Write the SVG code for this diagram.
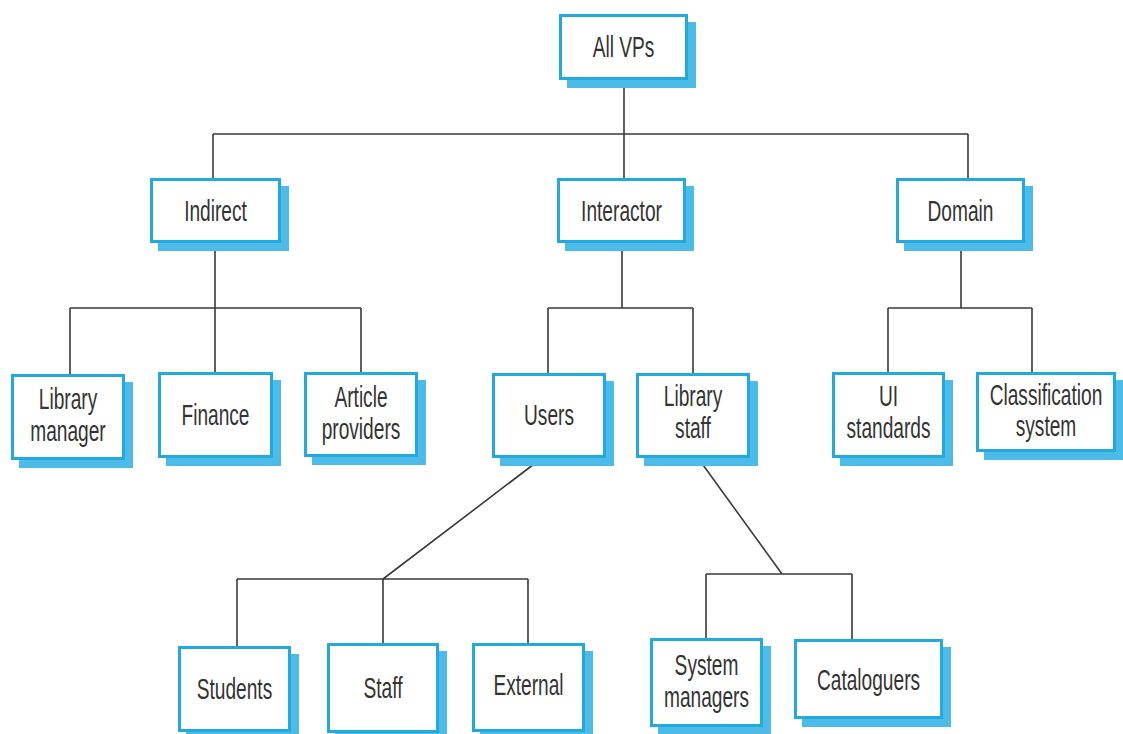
<svg xmlns="http://www.w3.org/2000/svg" width="1123" height="734" viewBox="0 0 1123 734">
<style>
.sh{fill:#4dbbe8}
.bx{fill:#ffffff;stroke:#22aadf;stroke-width:3}
.t{font-family:"Liberation Sans",Arial,sans-serif;font-size:29px;fill:#333333;text-anchor:middle}
.c{stroke:#3a3a3a;stroke-width:1.6;fill:none}
</style>
<rect width="1123" height="734" fill="#ffffff"/>
<g id="connectors" class="c">
<path d="M624,80 V134 M213,134 H968 M213,134 V178 M624,134 V178 M968,134 V178"/>
<path d="M215,243 V308 M70,308 H361 M70,308 V374 M215,308 V372 M361,308 V372"/>
<path d="M622,243 V308 M548,308 H693 M548,308 V373 M693,308 V373"/>
<path d="M961,243 V308 M888,308 H1032 M888,308 V372 M1032,308 V372"/>
<path d="M542,458 L383,579 M237,579 H528 M237,579 V646 M383,579 V643 M528,579 V643"/>
<path d="M698,458 L782,574 M706,574 H852 M706,574 V638 M852,574 V639"/>
</g>
<g id="n-allvps"><rect class="sh" x="567" y="22" width="129" height="66"/><rect class="bx" x="560.5" y="15.5" width="126" height="63"/><text class="t" transform="translate(623.5,57) scale(0.66,1)">All VPs</text></g>
<g id="n-indirect"><rect class="sh" x="158" y="186" width="131" height="65"/><rect class="bx" x="151.5" y="179.5" width="128" height="62"/><text class="t" transform="translate(215.5,221) scale(0.66,1)">Indirect</text></g>
<g id="n-interactor"><rect class="sh" x="565" y="186" width="129" height="65"/><rect class="bx" x="558.5" y="179.5" width="126" height="62"/><text class="t" transform="translate(621.5,221) scale(0.66,1)">Interactor</text></g>
<g id="n-domain"><rect class="sh" x="904" y="186" width="129" height="65"/><rect class="bx" x="897.5" y="179.5" width="126" height="62"/><text class="t" transform="translate(960.5,221) scale(0.66,1)">Domain</text></g>
<g id="n-libmgr"><rect class="sh" x="19" y="382" width="114" height="86"/><rect class="bx" x="12.5" y="375.5" width="111" height="83"/><text class="t" transform="translate(68,409) scale(0.66,1)"><tspan x="0">Library</tspan><tspan x="0" dy="32">manager</tspan></text></g>
<g id="n-finance"><rect class="sh" x="166" y="380" width="115" height="86"/><rect class="bx" x="159.5" y="373.5" width="112" height="83"/><text class="t" transform="translate(215.5,425) scale(0.66,1)">Finance</text></g>
<g id="n-article"><rect class="sh" x="312" y="380" width="114" height="85"/><rect class="bx" x="305.5" y="373.5" width="111" height="82"/><text class="t" transform="translate(361,407) scale(0.66,1)"><tspan x="0">Article</tspan><tspan x="0" dy="32">providers</tspan></text></g>
<g id="n-users"><rect class="sh" x="500" y="381" width="114" height="85"/><rect class="bx" x="493.5" y="374.5" width="111" height="82"/><text class="t" transform="translate(549,425) scale(0.66,1)">Users</text></g>
<g id="n-libstaff"><rect class="sh" x="644" y="381" width="114" height="85"/><rect class="bx" x="637.5" y="374.5" width="111" height="82"/><text class="t" transform="translate(693,406) scale(0.66,1)"><tspan x="0">Library</tspan><tspan x="0" dy="32">staff</tspan></text></g>
<g id="n-ui"><rect class="sh" x="840" y="380" width="113" height="86"/><rect class="bx" x="833.5" y="373.5" width="110" height="83"/><text class="t" transform="translate(888.5,406) scale(0.66,1)"><tspan x="0">UI</tspan><tspan x="0" dy="32">standards</tspan></text></g>
<g id="n-classif"><rect class="sh" x="984" y="380" width="140" height="80"/><rect class="bx" x="977.5" y="373.5" width="137" height="77"/><text class="t" transform="translate(1046,405) scale(0.66,1)"><tspan x="0">Classification</tspan><tspan x="0" dy="31">system</tspan></text></g>
<g id="n-students"><rect class="sh" x="186" y="654" width="113" height="86"/><rect class="bx" x="179.5" y="647.5" width="110" height="83"/><text class="t" transform="translate(234.5,699) scale(0.66,1)">Students</text></g>
<g id="n-staff"><rect class="sh" x="335" y="651" width="112" height="90"/><rect class="bx" x="328.5" y="644.5" width="109" height="87"/><text class="t" transform="translate(383,698) scale(0.66,1)">Staff</text></g>
<g id="n-external"><rect class="sh" x="480" y="651" width="113" height="89"/><rect class="bx" x="473.5" y="644.5" width="110" height="86"/><text class="t" transform="translate(528.5,695) scale(0.66,1)">External</text></g>
<g id="n-sysmgr"><rect class="sh" x="658" y="646" width="113" height="89"/><rect class="bx" x="651.5" y="639.5" width="110" height="86"/><text class="t" transform="translate(706.5,675) scale(0.66,1)"><tspan x="0">System</tspan><tspan x="0" dy="32">managers</tspan></text></g>
<g id="n-catalog"><rect class="sh" x="802" y="647" width="149" height="80"/><rect class="bx" x="795.5" y="640.5" width="146" height="77"/><text class="t" transform="translate(868.5,690) scale(0.66,1)">Cataloguers</text></g>
</svg>
